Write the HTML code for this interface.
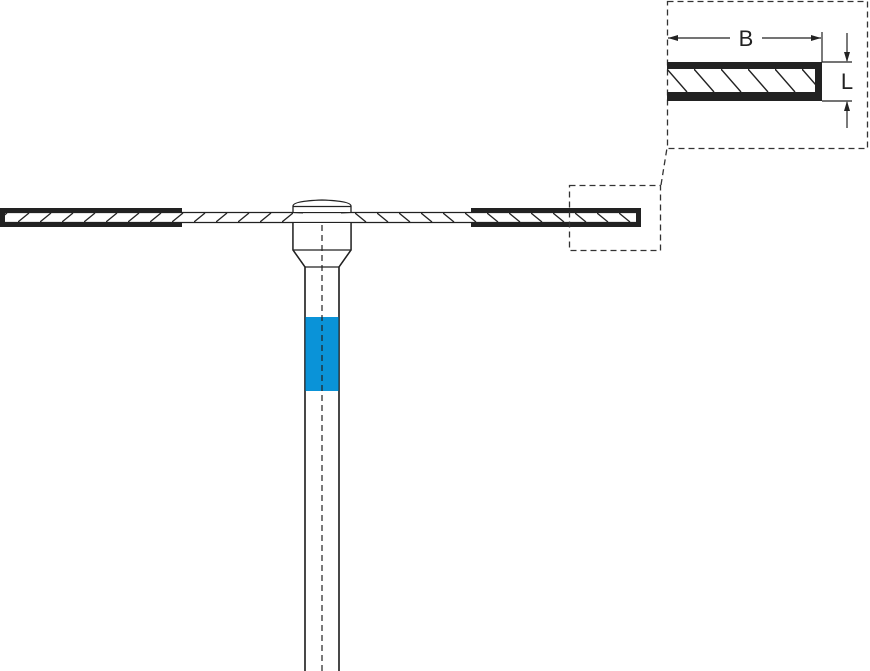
<!DOCTYPE html>
<html><head><meta charset="utf-8"><style>html,body{margin:0;padding:0;background:#fff}svg{display:block}</style></head>
<body>
<svg width="870" height="671" viewBox="0 0 870 671" xmlns="http://www.w3.org/2000/svg">
<defs>
<pattern id="hl" patternUnits="userSpaceOnUse" x="18" y="213" width="22" height="9"><line x1="0" y1="9" x2="11" y2="0" stroke="#222" stroke-width="1.3"/></pattern>
<pattern id="hr" patternUnits="userSpaceOnUse" x="355" y="213" width="22" height="9"><line x1="0" y1="0" x2="11" y2="9" stroke="#222" stroke-width="1.3"/></pattern>
<pattern id="hi" patternUnits="userSpaceOnUse" x="667" y="69" width="27" height="23"><line x1="0" y1="0" x2="20" y2="23" stroke="#222" stroke-width="1.4"/></pattern>
</defs>
<!-- disc -->
<rect x="0" y="213" width="293" height="9" fill="url(#hl)"/>
<rect x="351" y="213" width="289" height="9" fill="url(#hr)"/>
<line x1="0" y1="212.5" x2="640" y2="212.5" stroke="#222" stroke-width="1.3"/>
<line x1="0" y1="222.5" x2="640" y2="222.5" stroke="#222" stroke-width="1.3"/>
<!-- dark bands -->
<path d="M0 208 H182 V213 H5 V222 H182 V227 H0 Z" fill="#222"/>
<path d="M471 208 H641 V227 H471 V222 H636 V213 H471 Z" fill="#222"/>
<!-- hub -->
<path d="M293 212 V206 Q293 201 322 200 Q351 201 351 206 V212" fill="#fff" stroke="#222" stroke-width="1.3"/>
<line x1="293" y1="206.5" x2="351" y2="206.5" stroke="#222" stroke-width="1.2"/>
<path d="M293 212.5 L303 213 M351 212.5 L341 213" stroke="#222" stroke-width="1"/>
<path d="M293 222 V250 L305 267 V671 M351 222 V250 L339 267 V671" fill="none" stroke="#222" stroke-width="1.4"/>
<rect x="293" y="223" width="58" height="27" fill="#fff"/>
<path d="M293 222 V250 L305 267 V671 M351 222 V250 L339 267 V671" fill="none" stroke="#222" stroke-width="1.4"/>
<line x1="293" y1="250" x2="351" y2="250" stroke="#222" stroke-width="1.3"/>
<line x1="305" y1="267" x2="339" y2="267" stroke="#222" stroke-width="1.3"/>
<rect x="305.5" y="317" width="33" height="74" fill="#0a93d8"/>
<line x1="322" y1="225" x2="322" y2="671" stroke="#222" stroke-width="1.2" stroke-dasharray="6,4"/>
<!-- dashed boxes -->
<rect x="569.5" y="185.5" width="91" height="65" fill="none" stroke="#333" stroke-width="1.3" stroke-dasharray="6,4"/>
<line x1="661" y1="185" x2="667" y2="148" stroke="#333" stroke-width="1.3" stroke-dasharray="6,4"/>
<rect x="667.5" y="1.5" width="200" height="147" fill="none" stroke="#333" stroke-width="1.3" stroke-dasharray="6,4"/>
<!-- inset section -->
<rect x="667" y="69" width="148" height="23" fill="url(#hi)"/>
<path d="M667 62 H822 V101 H667 V92 H815 V69 H667 Z" fill="#222"/>
<!-- B dim -->
<line x1="822" y1="32" x2="822" y2="62" stroke="#222" stroke-width="1.2"/>
<line x1="668" y1="38" x2="730" y2="38" stroke="#222" stroke-width="1.2"/>
<line x1="762" y1="38" x2="821" y2="38" stroke="#222" stroke-width="1.2"/>
<path d="M668 38 L678 35 L678 41 Z M821 38 L811 35 L811 41 Z" fill="#222"/>
<text x="746" y="46" font-family="Liberation Sans, sans-serif" font-size="22" text-anchor="middle" fill="#222">B</text>
<!-- L dim -->
<line x1="822" y1="62" x2="852" y2="62" stroke="#222" stroke-width="1.2"/>
<line x1="822" y1="101" x2="852" y2="101" stroke="#222" stroke-width="1.2"/>
<line x1="847" y1="33" x2="847" y2="61" stroke="#222" stroke-width="1.2"/>
<line x1="847" y1="102" x2="847" y2="128" stroke="#222" stroke-width="1.2"/>
<path d="M847 62 L844 52 L850 52 Z M847 101 L844 111 L850 111 Z" fill="#222"/>
<text x="847" y="89" font-family="Liberation Sans, sans-serif" font-size="22" text-anchor="middle" fill="#222">L</text>
</svg>
</body></html>
